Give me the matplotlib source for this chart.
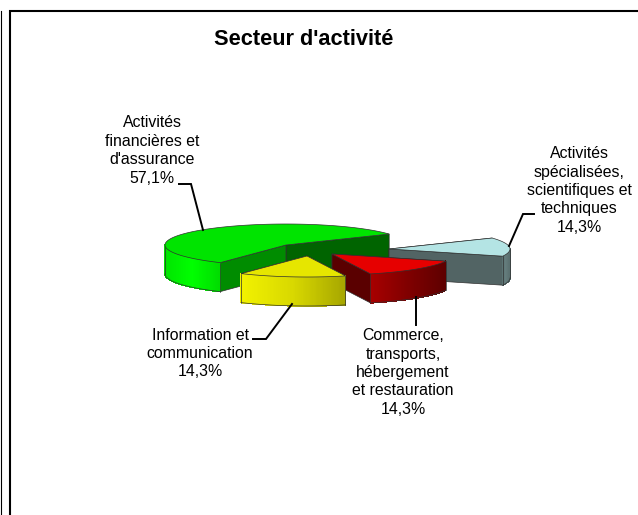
import numpy as np
import matplotlib
matplotlib.use('Agg')
import matplotlib.pyplot as plt
from matplotlib.colors import LinearSegmentedColormap
from matplotlib.patches import Polygon

plt.rcParams['font.family'] = ['Liberation Sans', 'DejaVu Sans']

# Chart data, in drawing order round the pie (counter-clockwise from the start angle)
categories = ["Activités\nfinancières et\nd'assurance",
              "Information et\ncommunication",
              "Commerce,\ntransports,\nhébergement\net restauration",
              "Activités\nspécialisées,\nscientifiques et\ntechniques"]
shares = [57.1, 14.3, 14.3, 14.3]

# Pie geometry, in pixels of the figure
start_angle = 31.5
rx, ry = 121.0, 21.0
depth = 29.0
centers = [(286, 245), (307, 256), (332, 254), (389, 249)]

top_colors = ['#00e400', '#e6e600', '#e60000', '#b4e4e4']
wall_colors = [('#006400', '#008c00'), ('#8c8c00', '#8c8c00'),
               ('#5a0000', '#5a0000'), ('#526464', '#526464')]
rim_stops = [['#00e400', '#00ff00', '#00dc00'],
             ['#f2f200', '#d8d800', '#a6a600'],
             ['#a80000', '#800000', '#5e0000'],
             ['#5a7272', '#647c7c', '#5a7070']]
edge_color = '#303030'

fig = plt.figure(figsize=(6.38, 5.15), dpi=100)
ax = fig.add_axes([0, 0, 1, 1])
ax.set_xlim(0, 638)
ax.set_ylim(515, 0)
ax.axis('off')

# Frame
ax.plot([10, 10, 638], [515, 11, 11], color='black', lw=1.5, solid_joinstyle='miter')
ax.plot([0.5, 0.5], [11, 515], color='black', lw=0.8)

ax.text(304, 39.5, "Secteur d'activité", ha='center', va='center', fontsize=15.7, fontweight='bold')


def rim(c, t):
    return c[0] + rx * np.cos(t), c[1] - ry * np.sin(t)


def draw_wall(c, t, color, z):
    x, y = rim(c, t)
    ax.add_patch(Polygon([c, (x, y), (x, y + depth), (c[0], c[1] + depth)], closed=True,
                         facecolor=color, edgecolor=edge_color, lw=0.5, zorder=z))


def draw_slice(c, a0, a1, top, walls, stops, z):
    t0, t1 = np.radians(a0), np.radians(a1)
    # inner walls, the far one first
    pairs = sorted([(t0, walls[0]), (t1, walls[1])], key=lambda p: -np.sin(p[0]))
    for t, col in pairs:
        draw_wall(c, t, col, z)
    # outer wall: only the part facing the viewer, as thin strips for the gradient
    front0 = max(a0, 180)
    front1 = min(a1, 360)
    if front1 > front0:
        cmap = LinearSegmentedColormap.from_list('rim', stops)
        ts = np.radians(np.linspace(front0, front1, 90))
        xs, ys = rim(c, ts)
        span = xs.max() - xs.min()
        for i in range(len(ts) - 1):
            col = cmap((xs[i] - xs.min()) / span)
            ax.add_patch(Polygon([(xs[i], ys[i]), (xs[i + 1], ys[i + 1]),
                                  (xs[i + 1], ys[i + 1] + depth), (xs[i], ys[i] + depth)],
                                 closed=True, facecolor=col, edgecolor=col, lw=0.4,
                                 antialiased=False, zorder=z))
        ax.plot(xs, ys + depth, color=edge_color, lw=0.5, zorder=z)
        ax.plot([xs[0], xs[0]], [ys[0], ys[0] + depth], color=edge_color, lw=0.5, zorder=z)
        ax.plot([xs[-1], xs[-1]], [ys[-1], ys[-1] + depth], color=edge_color, lw=0.5, zorder=z)
    # top face
    ts = np.radians(np.linspace(a0, a1, 120))
    xs, ys = rim(c, ts)
    pts = [c] + list(zip(xs, ys))
    ax.add_patch(Polygon(pts, closed=True, facecolor=top, edgecolor=edge_color, lw=0.5, zorder=z))


# Slice angles come from the shares
total = sum(shares)
angles = start_angle + np.concatenate([[0], np.cumsum(shares)]) * 360.0 / total
spans = [(angles[i], angles[i + 1]) for i in range(len(shares))]

z_order = {0: 2, 3: 3, 2: 4, 1: 5}
for i in range(len(shares)):
    draw_slice(centers[i], spans[i][0], spans[i][1], top_colors[i], wall_colors[i], rim_stops[i], z_order[i])

# Leader lines
leaders = [([179, 191, 203], [184, 184, 230]),
           ([253, 266, 292], [339, 339, 304]),
           ([415.5, 415.5], [297, 325]),
           ([534, 523, 509], [214, 214, 246])]
for lx, ly in leaders:
    ax.plot(lx, ly, color='black', lw=1.4, zorder=6, solid_joinstyle='miter')

# Labels
label_pos = [(152, 150.5), (200, 353.5), (403, 372.5), (579, 190.5)]
for name, v, (x, y) in zip(categories, shares, label_pos):
    txt = name + '\n' + f'{v:.1f}'.replace('.', ',') + '%'
    ax.text(x, y, txt, ha='center', va='center', fontsize=11.4, linespacing=1.28, color='black', zorder=7)

fig.savefig('out.png', dpi=100)
